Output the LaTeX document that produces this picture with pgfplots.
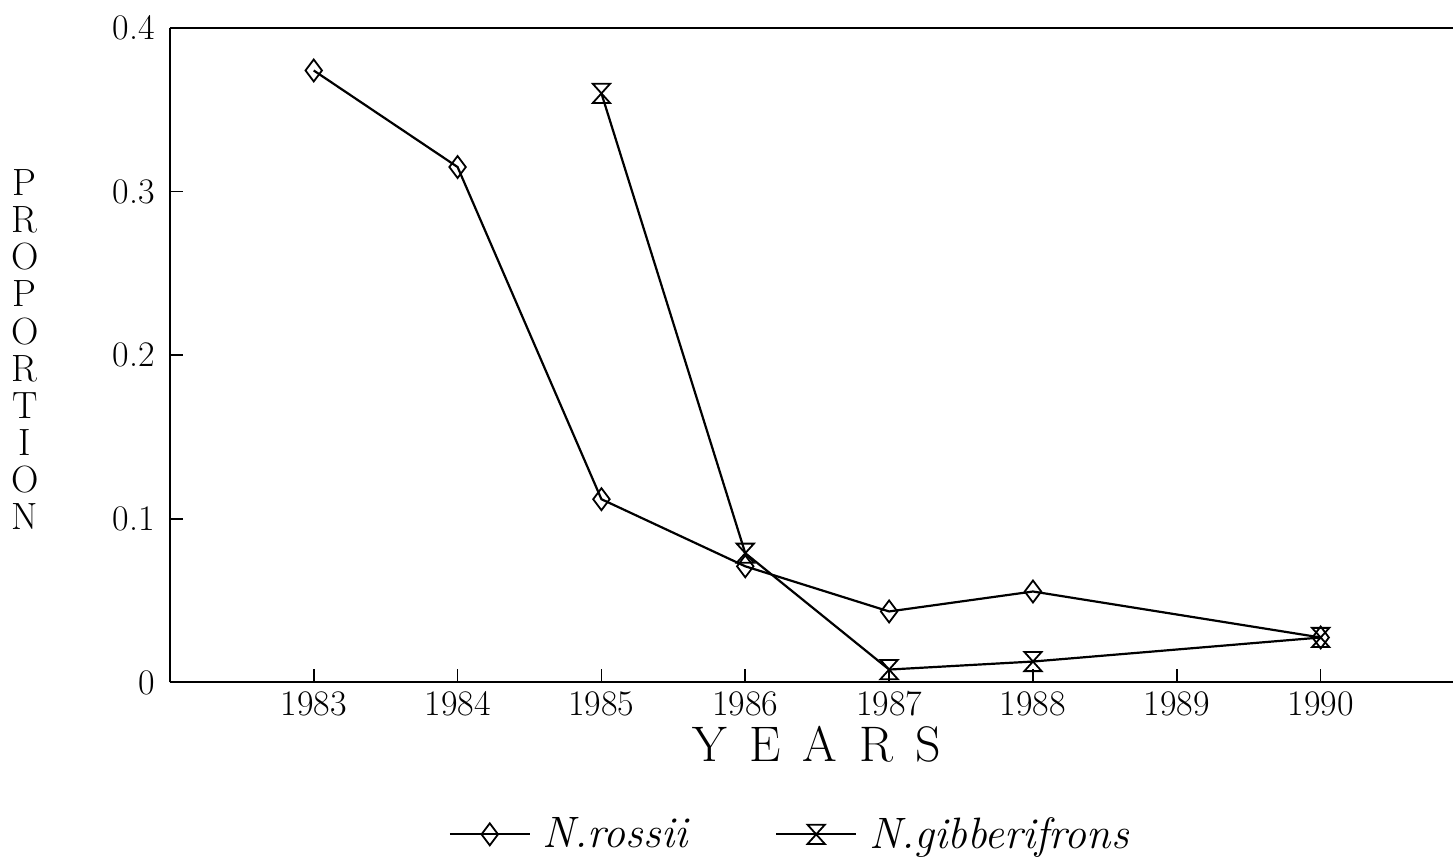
\documentclass[border=0pt]{standalone}
\usepackage{pgfplots}
\pgfplotsset{compat=1.18}
\pgfdeclareplotmark{hourglass}{%
  \pgfpathmoveto{\pgfqpoint{-0.9\pgfplotmarksize}{\pgfplotmarksize}}%
  \pgfpathlineto{\pgfqpoint{0.9\pgfplotmarksize}{\pgfplotmarksize}}%
  \pgfpathlineto{\pgfqpoint{-0.9\pgfplotmarksize}{-\pgfplotmarksize}}%
  \pgfpathlineto{\pgfqpoint{0.9\pgfplotmarksize}{-\pgfplotmarksize}}%
  \pgfpathclose
  \pgfusepathqstroke}
\newcommand{\ylab}{\begin{tabular}{@{}c@{}}P\\R\\O\\P\\O\\R\\T\\I\\O\\N\end{tabular}}
\begin{document}
\begin{tikzpicture}
\begin{axis}[
  scale only axis,
  width=642pt, height=327.5pt,
  xmin=1982, xmax=1990.92,
  ymin=0, ymax=0.4,
  clip=false,
  axis y line*=left,
  axis x line*=box,
  xtick pos=lower,
  xtick={1983,1984,1985,1986,1987,1988,1989,1990},
  ytick={0,0.1,0.2,0.3,0.4},
  yticklabels={0,0.1,0.2,0.3,0.4},
  tick align=inside,
  major tick length=6.5pt,
  tick style={line width=0.8pt, black},
  axis line style={line width=1pt},
  /pgf/number format/assume math mode=true,
  /pgf/number format/1000 sep={},
  tick label style={font=\fontsize{18}{20}\selectfont},
  xticklabel style={yshift=-1pt},
  yticklabel style={xshift=-4pt},
  xlabel={Y\hspace{11pt}E\hspace{11pt}A\hspace{11pt}R\hspace{11pt}S},
  xlabel style={font=\fontsize{25}{30}\selectfont, at={(rel axis cs:0.504,-0.095)}, anchor=center},
  ylabel={\ylab},
  ylabel style={font=\fontsize{19}{18.4}\selectfont, rotate=-90, at={(rel axis cs:-0.113,0.5)}, anchor=center},
  legend columns=2,
  legend style={draw=none, fill=none, at={(rel axis cs:0.487,-0.232)}, anchor=center,
    font=\itshape\fontsize{22}{24}\selectfont,
    nodes={inner xsep=6pt},
    /tikz/every even column/.append style={column sep=38pt}},
  legend image code/.code={%
    \draw[mark repeat=2, mark phase=2, #1] plot coordinates {(0cm,0cm) (0.7cm,0cm) (1.4cm,0cm)};},
]
\addplot[black, line width=1.1pt, mark=diamond, mark size=5.5pt, mark options={solid, fill=white, line width=0.9pt}]
  coordinates {(1983,0.374) (1984,0.315) (1985,0.112) (1986,0.071) (1987,0.0434) (1988,0.0556) (1990,0.0275)};
\addlegendentry{N.rossii}
\addplot[black, line width=1.1pt, mark=hourglass, mark size=4.8pt, mark options={solid, line width=0.9pt}]
  coordinates {(1985,0.360) (1986,0.079) (1987,0.0079) (1988,0.0128) (1990,0.0275)};
\addlegendentry{N.gibberifrons}
\path (rel axis cs:-0.1324,1.0427) (rel axis cs:1,-0.2687);
\end{axis}
\end{tikzpicture}
\end{document}
